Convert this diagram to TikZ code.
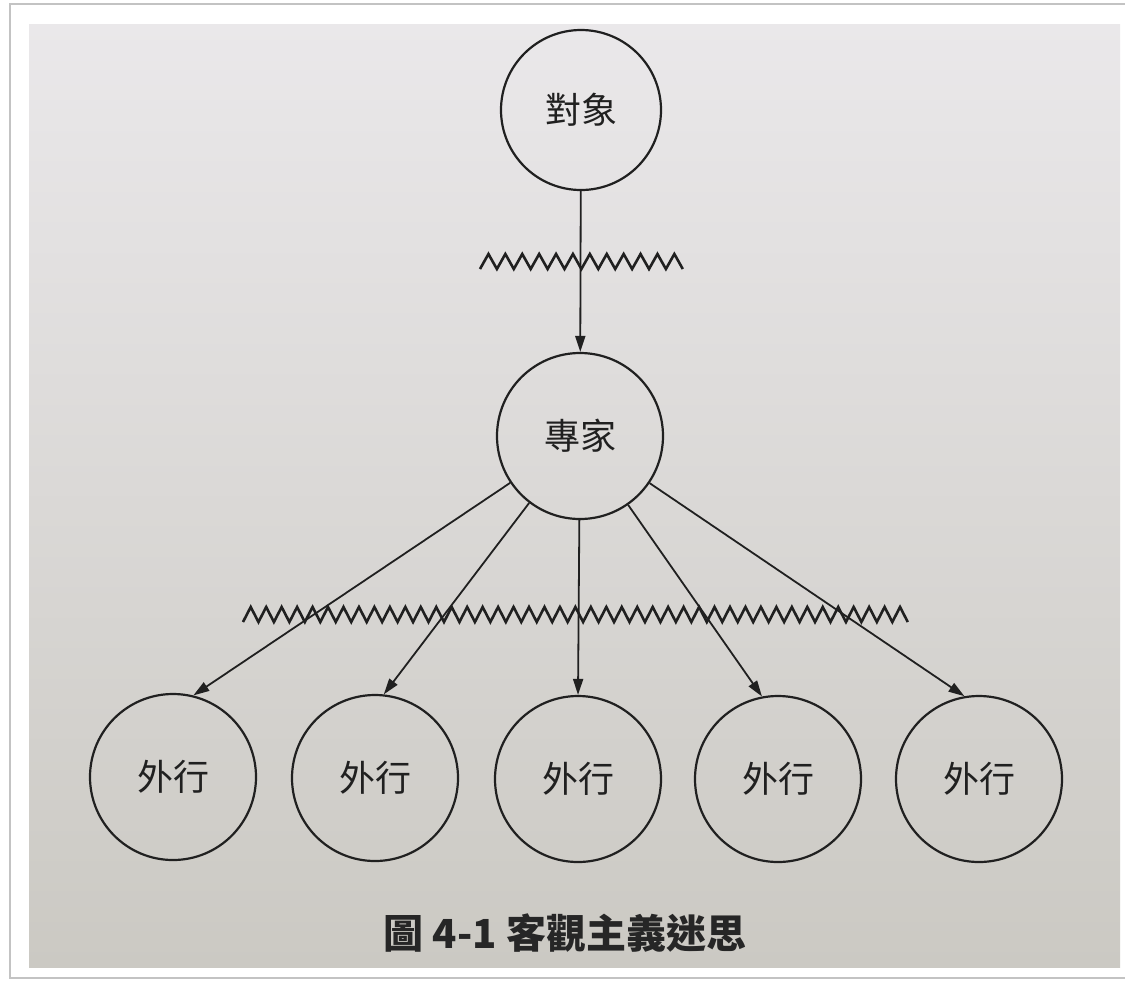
\documentclass[tikz,border=0pt]{standalone}
\usepackage{fontspec}
\newfontfamily\cjk{Noto Sans CJK TC}
\usetikzlibrary{arrows.meta}
\definecolor{ink}{RGB}{32,32,32}
\definecolor{frameline}{RGB}{195,195,195}
\definecolor{papertop}{RGB}{234,232,234}
\definecolor{papermid}{RGB}{225,224,220}
\definecolor{paperbot}{RGB}{203,201,195}
\begin{document}
\begin{tikzpicture}[x=0.5pt,y=-0.5pt,
  circ/.style={circle,draw=ink,line width=1.1pt,minimum size=83pt,inner sep=0pt,
    font=\cjk\fontsize{18}{18}\selectfont,text=ink},
  conn/.style={draw=ink,line width=0.9pt,-{Triangle[length=8pt,width=5pt]}},
  zz/.style={draw=ink,line width=1.3pt,line join=miter},
  caption/.style={font=\cjk\bfseries\fontsize{20}{20}\selectfont,text=black!85}]
\useasboundingbox (0,0) rectangle (1125,982);
\fill[white] (0,0) rectangle (1125,982);
\draw[frameline,line width=1pt] (10,4) rectangle (1135,978);
\shade[top color=papertop,middle color=papermid,bottom color=paperbot] (29,24) rectangle (1120,967);

\node[circ,minimum size=80pt] (obj) at (581,110) {對象};
\node[circ] (exp) at (580,436) {專家};
\node[circ] (l1) at (173,777) {外行};
\node[circ] (l2) at (375,778) {外行};
\node[circ] (l3) at (578,779) {外行};
\node[circ] (l4) at (778,779) {外行};
\node[circ] (l5) at (979,779) {外行};

\draw[zz] (480,269) \foreach \i in {1,...,12}{ -- ++(8.45,-15) -- ++(8.45,15) };
\draw[zz] (243,622) \foreach \i in {1,...,43}{ -- ++(7.73,-15) -- ++(7.73,15) };

\draw[conn] (obj) -- (exp);
\draw[conn] (exp) -- (l1.76);
\draw[conn] (exp) -- (l2.84);
\draw[conn] (exp) -- (l3.north);
\draw[conn] (exp) -- (l4.101);
\draw[conn] (exp) -- (l5.100);

\node[caption] (cap) at (565,933) {圖 4-1 客觀主義迷思};
\end{tikzpicture}
\end{document}
